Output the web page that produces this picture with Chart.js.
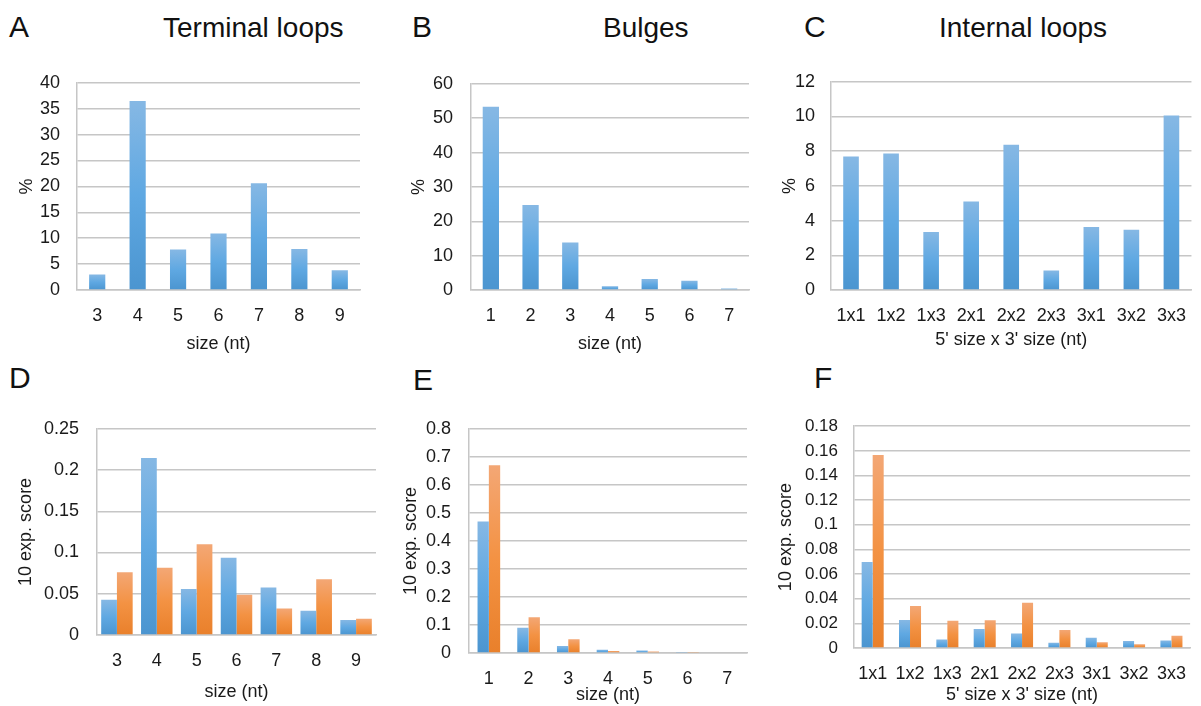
<!DOCTYPE html>
<html>
<head>
<meta charset="utf-8">
<script src="https://cdn.jsdelivr.net/npm/chart.js@4.4.1/dist/chart.umd.min.js"></script>
<style>
  html,body{margin:0;padding:0;background:#fff;}
  #wrap{position:relative;width:1201px;height:706px;background:#fff;overflow:hidden;font-family:"Liberation Sans",Arial,sans-serif;color:#111;}
  canvas{position:absolute;}
  .lab{position:absolute;line-height:1;white-space:nowrap;}
  .letter{font-size:30px;}
  .ttl{font-size:28px;}
</style>
</head>
<body>
<div id="wrap">
  <div class="lab letter" style="left:9px;top:12px;">A</div>
  <div class="lab ttl" style="left:163px;top:14px;">Terminal loops</div>
  <div class="lab letter" style="left:412px;top:12px;">B</div>
  <div class="lab ttl" style="left:603px;top:14px;">Bulges</div>
  <div class="lab letter" style="left:804px;top:12px;">C</div>
  <div class="lab ttl" style="left:939px;top:14px;">Internal loops</div>
  <div class="lab letter" style="left:9px;top:363px;">D</div>
  <div class="lab letter" style="left:413px;top:365px;">E</div>
  <div class="lab letter" style="left:814px;top:363px;">F</div>

  <canvas id="cA" width="370" height="300" style="left:0px;top:55px;"></canvas>
  <canvas id="cB" width="360" height="300" style="left:400px;top:55px;"></canvas>
  <canvas id="cC" width="431" height="300" style="left:770px;top:55px;"></canvas>
  <canvas id="cD" width="386" height="306" style="left:0px;top:400px;"></canvas>
  <canvas id="cE" width="358" height="306" style="left:400px;top:400px;"></canvas>
  <canvas id="cF" width="431" height="306" style="left:770px;top:400px;"></canvas>
</div>
<script>
// ---------- DATA ----------
const sizesTerminal = ["3","4","5","6","7","8","9"];
const terminalPct = [3.0, 36.5, 7.8, 10.9, 20.6, 7.9, 3.8];
const yTicksA = [0,5,10,15,20,25,30,35,40];

const sizesBulge = ["1","2","3","4","5","6","7"];
const bulgePct = [53.3, 24.7, 13.8, 1.1, 3.2, 2.7, 0.45];
const yTicksB = [0,10,20,30,40,50,60];

const internalCats = ["1x1","1x2","1x3","2x1","2x2","2x3","3x1","3x2","3x3"];
const internalPct = [7.7, 7.87, 3.34, 5.1, 8.37, 1.13, 3.63, 3.47, 10.06];
const yTicksC = [0,2,4,6,8,10,12];

const terminalScoreBlue   = [0.0427, 0.2147, 0.0559, 0.0936, 0.0575, 0.0295, 0.0182];
const terminalScoreOrange = [0.0761, 0.0815, 0.1099, 0.0489, 0.0322, 0.0675, 0.0198];
const yTicksD = [0,0.05,0.1,0.15,0.2,0.25];

const bulgeScoreBlue   = [0.469, 0.090, 0.025, 0.012, 0.009, 0.004, 0.003];
const bulgeScoreOrange = [0.670, 0.128, 0.049, 0.007, 0.005, 0.004, 0.003];
const yTicksE = [0,0.1,0.2,0.3,0.4,0.5,0.6,0.7,0.8];

const internalScoreBlue   = [0.0697, 0.0228, 0.0068, 0.0155, 0.0117, 0.0043, 0.0084, 0.0056, 0.0061];
const internalScoreOrange = [0.1567, 0.0340, 0.0221, 0.0226, 0.0368, 0.0147, 0.0046, 0.0030, 0.0099];
const yTicksF = [0,0.02,0.04,0.06,0.08,0.1,0.12,0.14,0.16,0.18];

const titleSize = "size (nt)";
const titleInternal = "5' size x 3' size (nt)";
const titlePct = "%";
const titleScore = "10 exp. score";

// ---------- STYLE ----------
const FONT = '"Liberation Sans", Arial, sans-serif';
const FS = 18;
const TXT = '#1a1a1a';
const GRID = '#c6c6c6';
const BLUE = ['#86b8e4', '#5fa8e2', '#4b95d0'];
const ORANGE = ['#f3a775', '#f39243', '#e9802b'];

function grad(cols){
  return function(ctx){
    const chart = ctx.chart;
    if (!chart.chartArea || ctx.type !== 'data') return cols[1];
    const ys = chart.scales.y;
    const top = ys.getPixelForValue(ctx.raw);
    const bot = ys.getPixelForValue(0);
    if (!isFinite(top) || !isFinite(bot) || bot - top < 1) return cols[1];
    const g = chart.ctx.createLinearGradient(0, top, 0, bot);
    g.addColorStop(0, cols[0]);
    g.addColorStop(0.5, cols[1]);
    g.addColorStop(1, cols[2]);
    return g;
  };
}

function makeChart(id, cfg){
  const datasets = cfg.series.map((s,i)=>({
    data: s,
    backgroundColor: grad(i === 0 ? BLUE : ORANGE),
    borderWidth: 0,
    barPercentage: 1,
    categoryPercentage: cfg.catPct
  }));
  return new Chart(document.getElementById(id), {
    type: 'bar',
    data: { labels: cfg.labels, datasets },
    options: {
      responsive: false,
      animation: false,
      devicePixelRatio: 1,
      events: [],
      layout: { padding: { top: cfg.padTop, right: cfg.padRight, bottom: 0, left: 0 } },
      plugins: { legend: { display: false }, tooltip: { enabled: false }, title: { display: false } },
      scales: {
        x: {
          grid: { display: false, drawTicks: false },
          border: { display: true, color: GRID, width: 1.5 },
          ticks: { color: TXT, font: { family: FONT, size: FS }, padding: cfg.xTickPad, maxRotation: 0, autoSkip: false },
          title: { display: true, text: cfg.xTitle, color: TXT, font: { family: FONT, size: FS }, padding: { top: 0, bottom: cfg.xTitlePad } },
          afterFit: (s) => { s.height = cfg.xH; }
        },
        y: {
          min: 0,
          max: cfg.yTicks[cfg.yTicks.length - 1],
          afterBuildTicks: (s) => { s.ticks = cfg.yTicks.map(v => ({ value: v })); },
          grid: { color: GRID, lineWidth: 1.5, drawTicks: false },
          border: { display: true, color: GRID, width: 1.5 },
          ticks: { color: TXT, font: { family: FONT, size: cfg.yFS || FS }, padding: cfg.yTickPad, autoSkip: false, callback: (v) => String(v) },
          title: { display: true, text: cfg.yTitle, color: TXT, font: { family: FONT, size: FS }, padding: { top: cfg.yTitlePad, bottom: 0 } },
          afterFit: (s) => { s.width = cfg.yW; }
        }
      }
    }
  });
}

makeChart('cA', { labels: sizesTerminal, series: [terminalPct], yTicks: yTicksA, catPct: 0.40,
  padTop: 16, padRight: 10, xH: 65, yW: 77, yTickPad: 17, xTickPad: 15, xTitle: titleSize, xTitlePad: 0, yTitle: titlePct, yTitlePad: 16 });
makeChart('cB', { labels: sizesBulge, series: [bulgePct], yTicks: yTicksB, catPct: 0.41,
  padTop: 16, padRight: 11, xH: 65, yW: 71, yTickPad: 18, xTickPad: 15, xTitle: titleSize, xTitlePad: 0, yTitle: titlePct, yTitlePad: 8 });
makeChart('cC', { labels: internalCats, series: [internalPct], yTicks: yTicksC, catPct: 0.39,
  padTop: 16, padRight: 1, xH: 65, yW: 61, yTickPad: 16, xTickPad: 15, xTitle: titleInternal, xTitlePad: 4, yTitle: titlePct, yTitlePad: 9 });
makeChart('cD', { labels: sizesTerminal, series: [terminalScoreBlue, terminalScoreOrange], yTicks: yTicksD, catPct: 0.79,
  padTop: 20, padRight: 10, xH: 71, yW: 97, yTickPad: 18, xTickPad: 15, xTitle: titleSize, xTitlePad: 3, yTitle: titleScore, yTitlePad: 15 });
makeChart('cE', { labels: sizesBulge, series: [bulgeScoreBlue, bulgeScoreOrange], yTicks: yTicksE, catPct: 0.57,
  padTop: 16, padRight: 11, xH: 53, yW: 69, yTickPad: 18, xTickPad: 15, xTitle: titleSize, xTitlePad: 0, yTitle: titleScore, yTitlePad: 0 });
makeChart('cF', { labels: internalCats, series: [internalScoreBlue, internalScoreOrange], yTicks: yTicksF, catPct: 0.59, yFS: 17,
  padTop: 12, padRight: 1, xH: 58, yW: 84, yTickPad: 16, xTickPad: 15, xTitle: titleInternal, xTitlePad: 0, yTitle: titleScore, yTitlePad: 5 });
</script>
</body>
</html>
